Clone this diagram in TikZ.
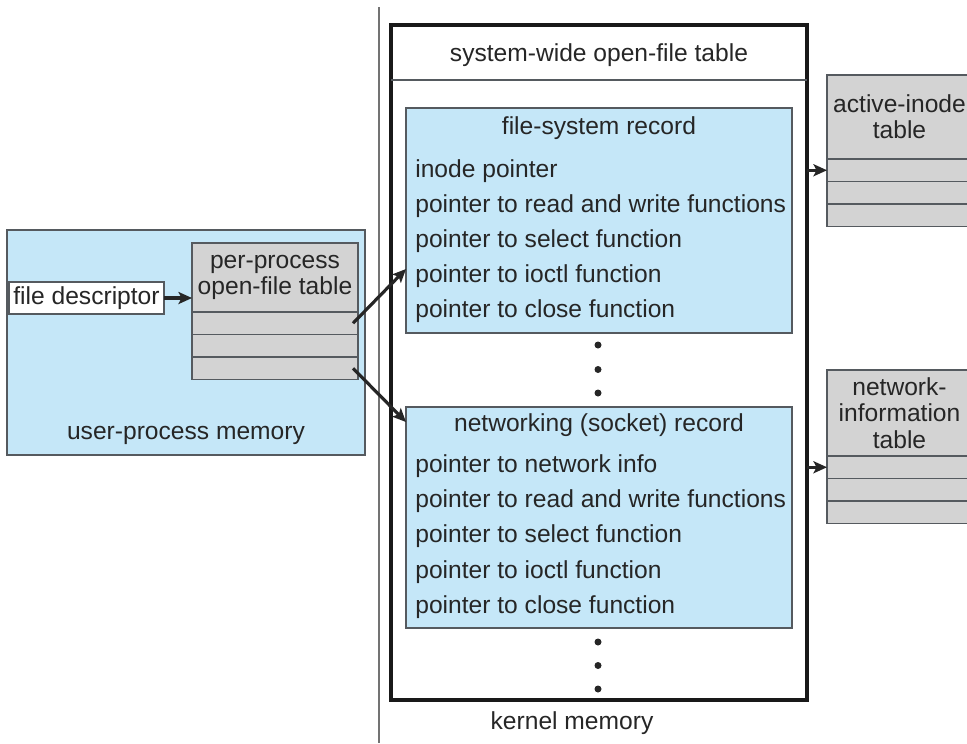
\documentclass[tikz,border=0pt]{standalone}
\usepackage{fontspec}
\setmainfont{Liberation Sans}
\usetikzlibrary{positioning,arrows.meta}
\definecolor{colMem}{RGB}{197,231,248}
\definecolor{colTab}{RGB}{211,211,211}
\definecolor{colLine}{RGB}{85,90,95}
\definecolor{colText}{RGB}{38,38,38}

\begin{document}
\begin{tikzpicture}[
    every node/.style={font=\fontsize{14}{15}\selectfont, text=colText, align=center},
    mem/.style={draw=colLine, fill=colMem, line width=0.8pt, inner sep=0pt, outer sep=0pt},
    tabhead/.style={draw=colLine, fill=colTab, line width=0.8pt, inner sep=0pt, outer sep=0pt},
    tabrow/.style={draw=colLine, fill=colTab, line width=0.8pt, inner sep=0pt, outer sep=0pt, minimum height=0.45cm},
    item/.style={anchor=west, inner sep=0pt},
    dot/.style={circle, fill=black!85, inner sep=0pt, minimum size=0.14cm},
    ptr/.style={-{Stealth[length=0.27cm, width=0.24cm, inset=0.06cm]}, line width=1.8pt, draw=black!85}
]
    \useasboundingbox (0,0) rectangle (19.34,-14.86);
    \clip (0,0) rectangle (19.34,-14.86);

    % user / kernel divider
    \draw[black!55, line width=0.8pt] (7.58,-0.14) -- (7.58,-14.86);

    % user-process memory
    \node[mem, minimum width=7.16cm, minimum height=4.5cm] (umem) at (3.72,-6.85) {};
    \node (ulbl) at (3.72,-8.7) {user-process memory};
    \node[draw=colLine, fill=white, line width=0.8pt, outer sep=0pt, inner sep=0pt, minimum width=3.1cm, minimum height=0.64cm] (fd) at (1.73,-5.96) {file descriptor};
    \node[tabhead, minimum width=3.32cm, minimum height=1.38cm] (ppt) at (5.50,-5.55) {per-process\\open-file table};
    \node[tabrow, minimum width=3.32cm, below=0pt of ppt] (ppt1) {};
    \node[tabrow, minimum width=3.32cm, below=0pt of ppt1] (ppt2) {};
    \node[tabrow, minimum width=3.32cm, below=0pt of ppt2] (ppt3) {};

    % kernel memory
    \node[draw=black!90, line width=2pt, outer sep=0pt, minimum width=8.32cm, minimum height=13.5cm] (kbox) at (11.98,-7.25) {};
    \draw[colLine, line width=0.8pt] (kbox.west |- 0,-1.6) -- (kbox.east |- 0,-1.6);
    \node (swt) at (11.98,-1.1) {system-wide open-file table};
    \node (klbl) at (11.44,-14.46) {kernel memory};

    % file-system record
    \node[mem, minimum width=7.72cm, minimum height=4.5cm] (fsrec) at (11.98,-4.41) {};
    \node (fstitle) at (11.98,-2.56) {file-system record};
    \node[item] (fs1) at (8.30,-3.42) {inode pointer};
    \node[item] (fs2) at (8.30,-4.12) {pointer to read and write functions};
    \node[item] (fs3) at (8.30,-4.82) {pointer to select function};
    \node[item] (fs4) at (8.30,-5.52) {pointer to ioctl function};
    \node[item] (fs5) at (8.30,-6.22) {pointer to close function};

    \node[dot] (d1) at (11.96,-6.90) {};
    \node[dot] (d2) at (11.96,-7.39) {};
    \node[dot] (d3) at (11.96,-7.86) {};

    % networking record
    \node[mem, minimum width=7.72cm, minimum height=4.42cm] (netrec) at (11.98,-10.35) {};
    \node (nettitle) at (11.98,-8.50) {networking (socket) record};
    \node[item] (nr1) at (8.30,-9.32) {pointer to network info};
    \node[item] (nr2) at (8.30,-10.02) {pointer to read and write functions};
    \node[item] (nr3) at (8.30,-10.73) {pointer to select function};
    \node[item] (nr4) at (8.30,-11.44) {pointer to ioctl function};
    \node[item] (nr5) at (8.30,-12.14) {pointer to close function};

    \node[dot] (d4) at (11.96,-12.84) {};
    \node[dot] (d5) at (11.96,-13.31) {};
    \node[dot] (d6) at (11.96,-13.78) {};

    % active-inode table
    \node[tabhead, minimum width=2.9cm, minimum height=1.68cm] (ait) at (17.99,-2.34) {active-inode\\table};
    \node[tabrow, minimum width=2.9cm, below=0pt of ait] (ait1) {};
    \node[tabrow, minimum width=2.9cm, below=0pt of ait1] (ait2) {};
    \node[tabrow, minimum width=2.9cm, below=0pt of ait2] (ait3) {};

    % network-information table
    \node[tabhead, minimum width=2.9cm, minimum height=1.72cm] (nit) at (17.99,-8.26) {network-\\information\\table};
    \node[tabrow, minimum width=2.9cm, below=0pt of nit] (nit1) {};
    \node[tabrow, minimum width=2.9cm, below=0pt of nit1] (nit2) {};
    \node[tabrow, minimum width=2.9cm, below=0pt of nit2] (nit3) {};

    \draw[ptr] (fd.east) -- (fd.east -| ppt.west);
    \draw[ptr] ([xshift=-0.1cm]ppt1.east) -- ([yshift=-0.97cm]fsrec.west);
    \draw[ptr] ([xshift=-0.1cm]ppt3.east) -- ([yshift=1.91cm]netrec.west);
    \draw[ptr] (kbox.east |- ait1.west) -- (ait1.west);
    \draw[ptr] (kbox.east |- nit1.west) -- (nit1.west);
\end{tikzpicture}
\end{document}
